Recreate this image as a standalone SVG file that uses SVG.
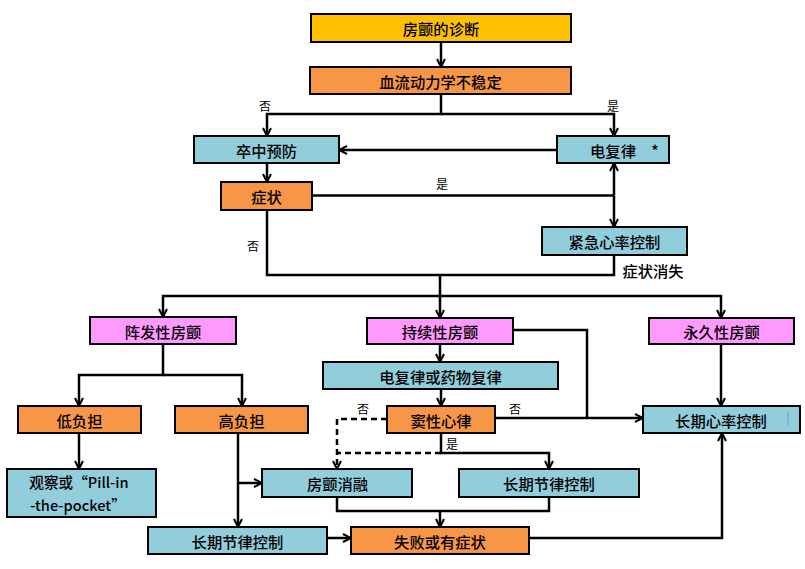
<svg xmlns="http://www.w3.org/2000/svg" width="805" height="569" viewBox="0 0 805 569">
<defs>
<marker id="a" viewBox="0 0 10 10" refX="9" refY="5" markerWidth="10" markerHeight="10" markerUnits="userSpaceOnUse" orient="auto">
<path d="M1,1 L9,5 L1,9" fill="none" stroke="#000" stroke-width="2"/>
</marker>
<style>
rect.n{stroke:#000;stroke-width:2}
.gold{fill:#FFC000}.org{fill:#F79646}.blue{fill:#92CDDC}.pink{fill:#FF99FF}
text{font-family:"Noto Sans CJK SC","Liberation Sans",sans-serif;fill:#000}
.t{font-size:15.3px;font-weight:500;text-anchor:middle;dominant-baseline:central}
.t2{font-size:14.6px}
.l{font-size:12px;text-anchor:middle;dominant-baseline:central}
.c path{fill:none;stroke:#000;stroke-width:2.5}
.c path.ar{marker-end:url(#a)}
.c path.d{stroke-dasharray:6 4}
</style>
</defs>
<rect width="805" height="569" fill="#fff"/>
<g class="c" id="connectors">
<path class="ar" d="M441,42 V67"/>
<path class="ar" d="M441,94 V114 H267 V136"/>
<path class="ar" d="M441,114 H614 V136"/>
<path class="ar" d="M557,150 H339"/>
<path class="ar" d="M267,163 V182"/>
<path d="M312,195.5 H614"/>
<path class="ar" d="M614,195.5 V163"/>
<path class="ar" d="M614,195.5 V227"/>
<path d="M267,210 V275 H614 V255"/>
<path class="ar" d="M440,275 V296 H163 V317"/>
<path class="ar" d="M440,296 H721 V318"/>
<path class="ar" d="M440,296 V318"/>
<path class="ar" d="M163,344 V375 H79 V406"/>
<path class="ar" d="M163,375 H242 V406"/>
<path class="ar" d="M440,344 V362"/>
<path class="ar" d="M441,389 V406"/>
<path d="M513,330 H587 V418"/>
<path class="ar" d="M495,418 H643"/>
<path class="ar" d="M721,344 V406"/>
<path class="ar" d="M79,433 V469"/>
<path class="ar" d="M238,433 V527"/>
<path class="ar" d="M238,483 H262"/>
<path class="ar d" d="M387,419 H337 V469"/>
<path class="d" d="M441,453 H337"/>
<path class="ar" d="M441,433 V453 H549 V469"/>
<path d="M337,497 V511 H549 V497"/>
<path class="ar" d="M440,511 V527"/>
<path class="ar" d="M327,538 H351"/>
<path class="ar" d="M529,538 H722 V433"/>
</g>
<g id="labels">
<text class="l" x="265" y="105">否</text>
<text class="l" x="613" y="105">是</text>
<text class="l" x="442" y="183">是</text>
<text class="l" x="253" y="245">否</text>
<text class="t" x="653" y="270">症状消失</text>
<text class="l" x="363" y="408">否</text>
<text class="l" x="515" y="408">否</text>
<text class="l" x="452" y="443">是</text>
</g>
<g id="n1"><rect class="n gold" x="311" y="14" width="260" height="28"/><text class="t" x="441" y="28">房颤的诊断</text></g>
<g id="n2"><rect class="n org" x="310" y="67" width="261" height="27"/><text class="t" x="440.5" y="80.5">血流动力学不稳定</text></g>
<g id="n3"><rect class="n blue" x="194" y="136" width="145" height="27"/><text class="t" x="266.5" y="149.5">卒中预防</text></g>
<g id="n4"><rect class="n blue" x="557" y="136" width="112" height="27"/><text class="t" x="613" y="149.5">电复律</text><text class="t" x="655" y="149.5">*</text></g>
<g id="n5"><rect class="n org" x="221" y="182" width="91" height="28"/><text class="t" x="266.5" y="196">症状</text></g>
<g id="n6"><rect class="n blue" x="542" y="227" width="145" height="28"/><text class="t" x="614.5" y="241">紧急心率控制</text></g>
<g id="n7"><rect class="n pink" x="90" y="317" width="146" height="27"/><text class="t" x="163" y="330.5">阵发性房颤</text></g>
<g id="n8"><rect class="n pink" x="367" y="318" width="146" height="26"/><text class="t" x="440" y="331">持续性房颤</text></g>
<g id="n9"><rect class="n pink" x="649" y="318" width="145" height="26"/><text class="t" x="721.5" y="331">永久性房颤</text></g>
<g id="n10"><rect class="n blue" x="323" y="362" width="235" height="27"/><text class="t" x="440.5" y="375.5">电复律或药物复律</text></g>
<g id="n11"><rect class="n org" x="18" y="406" width="123" height="27"/><text class="t" x="79.5" y="419.5">低负担</text></g>
<g id="n12"><rect class="n org" x="175" y="406" width="133" height="27"/><text class="t" x="241.5" y="419.5">高负担</text></g>
<g id="n13"><rect class="n org" x="387" y="406" width="108" height="27"/><text class="t" x="441" y="419.5">窦性心律</text></g>
<g id="n14"><rect class="n blue" x="643" y="406" width="157" height="27"/><text class="t" x="721" y="419.5">长期心率控制</text><rect x="787.5" y="412" width="1" height="13" fill="#5B9BD5"/></g>
<g id="n15"><rect class="n blue" x="7" y="469" width="149" height="48"/><text class="t t2" x="79" y="481.5">观察或“Pill-in</text><text class="t t2" x="78" y="504">-the-pocket”</text></g>
<g id="n16"><rect class="n blue" x="262" y="469" width="150" height="28"/><text class="t" x="337.5" y="483">房颤消融</text></g>
<g id="n17"><rect class="n blue" x="459" y="469" width="180" height="28"/><text class="t" x="549" y="483">长期节律控制</text></g>
<g id="n18"><rect class="n blue" x="148" y="527" width="179" height="27"/><text class="t" x="237.5" y="540.5">长期节律控制</text></g>
<g id="n19"><rect class="n org" x="351" y="527" width="178" height="27"/><text class="t" x="440" y="540.5">失败或有症状</text></g>
</svg>
